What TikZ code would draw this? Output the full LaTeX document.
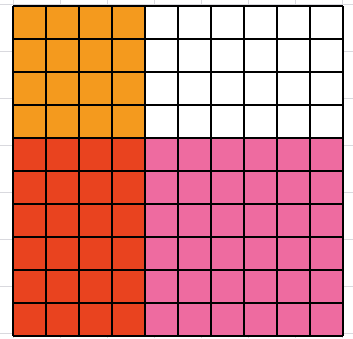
\documentclass[tikz,border=0pt]{standalone}
\usepackage{xcolor}
\usepackage{tikz}
\definecolor{gridorange}{HTML}{F49A1E}
\definecolor{gridred}{HTML}{E9431F}
\definecolor{gridpink}{HTML}{EE6BA0}
\definecolor{paperline}{HTML}{D9D9DE}

\begin{document}
\begin{tikzpicture}[x=1pt,y=1pt,
  paper/.style={paperline,line width=0.6pt},
  cellgrid/.style={black,line width=1.3pt}]
  % sheet and faint paper lines
  \useasboundingbox (-13,-2) rectangle (340,336);
  \fill[white] (-13,-2) rectangle (340,336);
  \foreach \k in {0,...,7} {
    \draw[paper] (47*\k,-2) -- (47*\k,336);
    \draw[paper] (-13,3+47*\k) -- (340,3+47*\k);
  }
  % coloured blocks
  \fill[gridorange] (0,198) rectangle (132,330);
  \fill[white] (132,198) rectangle (330,330);
  \fill[gridred] (0,0) rectangle (132,198);
  \fill[gridpink] (132,0) rectangle (330,198);
  % 10 x 10 grid
  \draw[cellgrid] (0,0) grid[step=33] (330,330);
\end{tikzpicture}
\end{document}
